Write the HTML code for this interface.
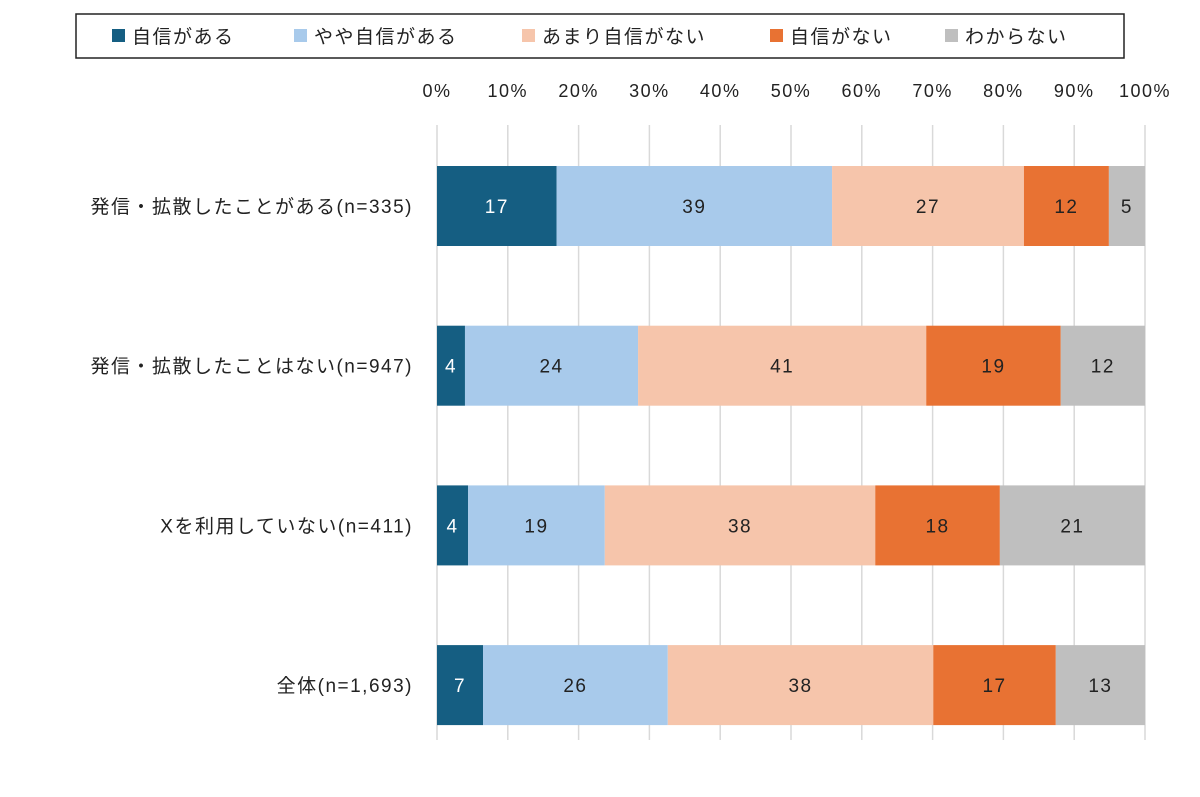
<!DOCTYPE html>
<html><head><meta charset="utf-8"><style>
body{margin:0;background:#fff;width:1200px;height:792px;overflow:hidden}
svg text{font-family:"Liberation Sans","Noto Sans CJK JP",sans-serif;fill:#222}
</style></head><body>
<svg id="chart" width="1200" height="792" xmlns="http://www.w3.org/2000/svg">
<g id="grid"></g>
<g id="ticks"></g>
<g id="bars"></g>
<g id="cats"></g>
<g id="legend"></g>
</svg>
<script>
const categories=["発信・拡散したことがある(n=335)","発信・拡散したことはない(n=947)","Xを利用していない(n=411)","全体(n=1,693)"];
const seriesNames=["自信がある","やや自信がある","あまり自信がない","自信がない","わからない"];
const s1=[16.9,3.95,4.4,6.5];
const s2=[38.9,24.45,19.3,26.1];
const s3=[27.1,40.7,38.2,37.5];
const s4=[12.0,19.0,17.6,17.3];
const s5=[5.1,11.9,20.5,12.6];
const tickLabels=["0%","10%","20%","30%","40%","50%","60%","70%","80%","90%","100%"];
const series=[s1,s2,s3,s4,s5];
const colors=["#155e82","#a8caeb","#f6c5ab","#e87233","#bfbfbf"];
const textColors=["#fff","#222","#222","#222","#222"];
const NS="http://www.w3.org/2000/svg";
const x0=437,x1=1145;
const xs=v=>x0+(x1-x0)*v/100;
const rowY=i=>166+i*159.7;
const barH=80;
function mk(tag,attrs,parent){const e=document.createElementNS(NS,tag);for(const k in attrs)e.setAttribute(k,attrs[k]);parent.appendChild(e);return e;}
const grid=document.getElementById('grid'),ticks=document.getElementById('ticks'),bars=document.getElementById('bars'),cats=document.getElementById('cats'),legend=document.getElementById('legend');
tickLabels.forEach((t,i)=>{
 const x=xs(i*10);
 const l=mk('line',{x1:x,x2:x,y1:125,y2:740,stroke:'#d9d9d9','stroke-width':1.5},grid);
 
 
 const tx=mk('text',{x:x,y:97,'text-anchor':'middle','font-size':18,'letter-spacing':1.5},ticks);
 tx.textContent=t;
 
 
});
categories.forEach((c,i)=>{
 const y=rowY(i);
 const t=mk('text',{x:413,y:y+barH/2+7,'text-anchor':'end','font-size':19,'letter-spacing':1.5},cats);
 t.textContent=c;
 
 
 let acc=0;
 series.forEach((s,j)=>{
  const v=s[i];
  const r=mk('rect',{x:xs(acc),y:y,width:xs(acc+v)-xs(acc),height:barH,fill:colors[j]},bars);
  
  
  const lb=mk('text',{x:(xs(acc)+xs(acc+v))/2,y:y+barH/2+7,'text-anchor':'middle','font-size':19,'letter-spacing':1.5,style:'fill:'+textColors[j]},bars);
  lb.textContent=Math.round(v);
  
  
  acc+=v;
 });
});
const box=mk('rect',{x:76,y:14,width:1048,height:44,fill:'none',stroke:'#222','stroke-width':1.5},legend);


const lx=[112,294,522,770,945];
seriesNames.forEach((n,j)=>{
 const sw=mk('rect',{x:lx[j],y:29,width:13,height:13,fill:colors[j]},legend);
 
 
 const t=mk('text',{x:lx[j]+20,y:43,'font-size':19,'letter-spacing':1.5},legend);
 t.textContent=n;
 
 
});
</script>
</body></html>
